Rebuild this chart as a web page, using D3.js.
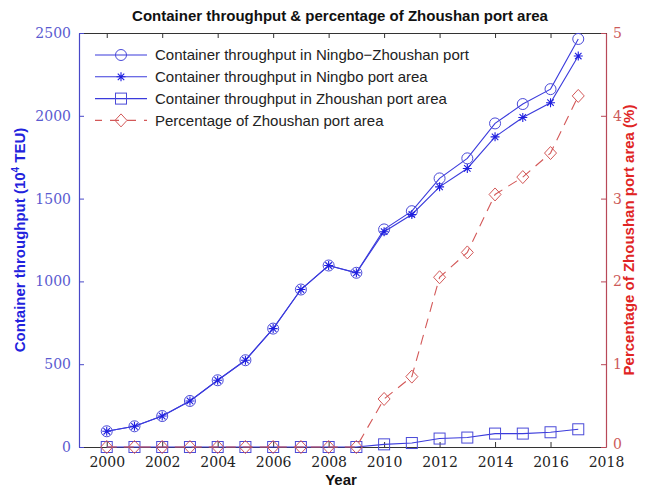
<!DOCTYPE html>
<meta charset="utf-8">
<script src="https://d3js.org/d3.v7.min.js"></script>
<style>
  body { margin: 0; background: #fff; }
</style>
<div id="chart"></div>
<script>
// data
const years = [2000, 2001, 2002, 2003, 2004, 2005, 2006, 2007, 2008, 2009, 2010, 2011, 2012, 2013, 2014, 2015, 2016, 2017];
const ningboZhoushan = [95, 125, 187, 278, 403, 524, 715, 951, 1096, 1052, 1314, 1424, 1622, 1743, 1954, 2071, 2161, 2464];
const ningbo = [95, 125, 187, 278, 403, 524, 715, 951, 1096, 1052, 1300, 1404, 1571, 1682, 1873, 1990, 2079, 2361];
const zhoushan = [0, 0, 0, 0, 0, 0, 0, 0, 0, 0, 16, 24, 51, 57, 81, 81, 89, 107];
const percentage = [0, 0, 0, 0, 0, 0, 0, 0, 0, 0, 0.58, 0.85, 2.05, 2.35, 3.05, 3.26, 3.55, 4.24];
const xTicks = [2000, 2002, 2004, 2006, 2008, 2010, 2012, 2014, 2016, 2018];
const leftTicks = [0, 500, 1000, 1500, 2000, 2500];
const rightTicks = [0, 1, 2, 3, 4, 5];

const W = 645, H = 488;
const margin = {top: 33, right: 39, bottom: 41, left: 79};
const width = W - margin.left - margin.right,
      height = H - margin.top - margin.bottom;

const blue = "#3b3bdc", red = "#d35858";
const serif = "'DejaVu Serif', 'Liberation Serif', serif";
const sans = "'Liberation Sans', Arial, sans-serif";

const svg = d3.select("#chart").append("svg")
    .attr("width", W).attr("height", H)
    .style("font-family", sans);

const g = svg.append("g").attr("transform", `translate(${margin.left},${margin.top})`);

const x = d3.scaleLinear().domain([1999, 2018]).range([0, width]);
const yL = d3.scaleLinear().domain([0, 2500]).range([height, 0]);
const yR = d3.scaleLinear().domain([0, 5]).range([height, 0]);

const fmt = d3.format("d");

// axes with inward ticks
function styleAxis(sel, col, labelCol) {
  sel.attr("font-family", null).attr("font-size", null);
  sel.select(".domain").attr("stroke", col).attr("stroke-width", 1.2);
  sel.selectAll(".tick line").attr("stroke", col);
  sel.selectAll(".tick text").attr("fill", labelCol)
    .style("font-family", serif).style("font-size", "14px");
}

const xb = g.append("g").attr("transform", `translate(0,${height})`)
  .call(d3.axisBottom(x).tickValues(xTicks).tickFormat(fmt).tickSizeInner(-5).tickSizeOuter(0).tickPadding(10));
styleAxis(xb, "#333", "#222");

const xt = g.append("g")
  .call(d3.axisTop(x).tickValues(xTicks).tickFormat("").tickSizeInner(-5).tickSizeOuter(0));
styleAxis(xt, "#333", "#222");

const yl = g.append("g")
  .call(d3.axisLeft(yL).tickValues(leftTicks).tickFormat(fmt).tickSizeInner(-5).tickSizeOuter(0).tickPadding(8));
styleAxis(yl, "#4848c8", "#5a5ad0");

const yr = g.append("g").attr("transform", `translate(${width},0)`)
  .call(d3.axisRight(yR).tickValues(rightTicks).tickFormat(fmt).tickSizeInner(-5).tickSizeOuter(0).tickPadding(7));
styleAxis(yr, "#b84858", "#cc5a5a");
yr.selectAll(".tick text").filter(d => d === 0).attr("y", -3);

// marker shapes
const starPath = function(r) {
  const d = r * 0.72;
  return `M${-r},0L${r},0M0,${-r}L0,${r}M${-d},${-d}L${d},${d}M${-d},${d}L${d},${-d}`;
};
function drawMarker(sel, type, col) {
  if (type === "circle") {
    sel.append("circle").attr("r", 5.5).attr("fill", "none").attr("stroke", col).attr("stroke-width", 1);
  } else if (type === "star") {
    sel.append("path").attr("d", starPath(4.5)).attr("fill", "none").attr("stroke", col).attr("stroke-width", 1.1);
  } else if (type === "square") {
    sel.append("rect").attr("x", -5.5).attr("y", -5.5).attr("width", 11).attr("height", 11)
      .attr("fill", "none").attr("stroke", col).attr("stroke-width", 1);
  } else if (type === "diamond") {
    sel.append("path").attr("d", "M0,-6.5L6,0L0,6.5L-6,0Z").attr("fill", "none").attr("stroke", col).attr("stroke-width", 1);
  }
}

const series = [
  {name: "Container throughput in Ningbo\u2212Zhoushan port", values: ningboZhoushan, y: yL, col: blue, mcol: "#4a4ad8", marker: "circle", dash: null},
  {name: "Container throughput in Ningbo port area", values: ningbo, y: yL, col: blue, mcol: "#1f1fe0", marker: "star", dash: null},
  {name: "Container throughput in Zhoushan port area", values: zhoushan, y: yL, col: blue, mcol: "#4a4ad8", marker: "square", dash: null},
  {name: "Percentage of Zhoushan port area", values: percentage, y: yR, col: red, mcol: red, marker: "diamond", dash: "10,7"}
];

series.forEach(s => {
  const line = d3.line().x((d, i) => x(years[i])).y(d => s.y(d));
  g.append("path").datum(s.values)
    .attr("d", line)
    .attr("fill", "none")
    .attr("stroke", s.col)
    .attr("stroke-width", 1.1)
    .attr("stroke-dasharray", s.dash);
  g.append("g").selectAll("g").data(s.values).join("g")
    .attr("transform", (d, i) => `translate(${x(years[i])},${s.y(d)})`)
    .each(function() { drawMarker(d3.select(this), s.marker, s.mcol); });
});

// legend
const legend = g.append("g").attr("transform", "translate(16,22)");
series.forEach((s, i) => {
  const row = legend.append("g").attr("transform", `translate(0,${i * 21.8})`);
  row.append("line").attr("x1", 0).attr("x2", 52).attr("y1", 0).attr("y2", 0)
    .attr("stroke", s.col).attr("stroke-width", 1.1).attr("stroke-dasharray", s.dash ? "9,8" : null)
    .attr("stroke-dashoffset", s.dash ? 2 : null);
  const m = row.append("g").attr("transform", "translate(26,0)");
  drawMarker(m, s.marker, s.mcol);
  row.append("text").attr("x", 60).attr("y", 0).attr("dy", "0.35em")
    .style("font-size", "15px").attr("fill", "#222").text(s.name);
});

// title and axis labels
svg.append("text").attr("x", 340).attr("y", 21).attr("text-anchor", "middle")
  .style("font-size", "15px").style("font-weight", "bold").attr("fill", "#111")
  .text("Container throughput & percentage of Zhoushan port area");

svg.append("text").attr("x", 341).attr("y", 485).attr("text-anchor", "middle")
  .style("font-size", "15px").style("font-weight", "bold").attr("fill", "#111").text("Year");

const yLab = svg.append("text")
  .attr("transform", `translate(25,${margin.top + height / 2}) rotate(-90)`)
  .attr("text-anchor", "middle")
  .style("font-size", "15px").style("font-weight", "bold").attr("fill", "#2222dd");
yLab.append("tspan").text("Container throughput (10");
yLab.append("tspan").attr("dy", -6).style("font-size", "10px").text("4");
yLab.append("tspan").attr("dy", 6).text(" TEU)");

svg.append("text")
  .attr("transform", `translate(634,${margin.top + height / 2}) rotate(-90)`)
  .attr("text-anchor", "middle")
  .style("font-size", "15px").style("font-weight", "bold").attr("fill", "#e02424")
  .text("Percentage of Zhoushan port area (%)");
</script>
